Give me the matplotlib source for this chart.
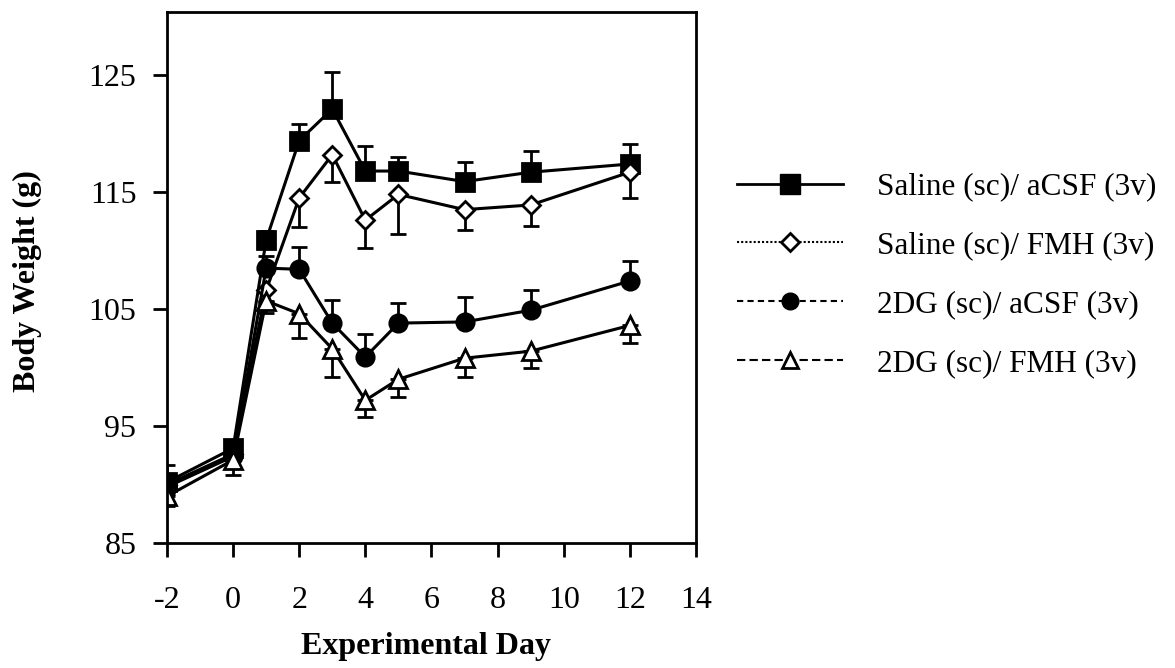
import numpy as np
import matplotlib
matplotlib.use('Agg')
import matplotlib.pyplot as plt
from matplotlib.lines import Line2D

plt.rcParams['font.family'] = ['Liberation Serif', 'DejaVu Serif']
plt.rcParams['axes.unicode_minus'] = False

days = [-2, 0, 1, 2, 3, 4, 5, 7, 9, 12]

sal_acsf = [90.2, 93.1, 110.9, 119.4, 122.1, 116.8, 116.8, 115.9, 116.7, 117.4]
sal_acsf_err = [1.5, 0.6, 0.8, 1.4, 3.2, 2.1, 1.2, 1.7, 1.8, 1.7]

sal_fmh = [90.0, 92.6, 106.6, 114.5, 118.2, 112.6, 114.8, 113.5, 113.9, 116.7]
sal_fmh_err = [0.8, 1.0, 1.0, 2.5, 2.3, 2.4, 3.4, 1.7, 1.8, 2.2]

dg_acsf = [89.8, 92.4, 108.5, 108.4, 103.8, 100.9, 103.8, 103.9, 104.9, 107.4]
dg_acsf_err = [0.8, 0.8, 1.0, 1.9, 2.0, 2.0, 1.7, 2.1, 1.7, 1.7]

dg_fmh = [89.0, 92.1, 105.7, 104.6, 101.6, 97.2, 99.0, 100.8, 101.4, 103.6]
dg_fmh_err = [0.8, 1.3, 1.0, 2.1, 2.4, 1.4, 1.5, 1.6, 1.4, 1.5]

labels = ['Saline (sc)/ aCSF (3v)', 'Saline (sc)/ FMH (3v)',
          '2DG (sc)/ aCSF (3v)', '2DG (sc)/ FMH (3v)']

fig = plt.figure(figsize=(11.75, 6.68), dpi=100)
ax = fig.add_axes([0.1421, 0.1871, 0.4502, 0.795])

series = [
    (sal_acsf, sal_acsf_err, 's', 'k', 12.5, 'up'),
    (sal_fmh, sal_fmh_err, 'D', 'white', 9, 'down'),
    (dg_acsf, dg_acsf_err, 'o', 'k', 12.5, 'up'),
    (dg_fmh, dg_fmh_err, '^', 'white', 12.5, 'down'),
]
for vals, err, mk, fc, ms, side in series:
    e = np.array(err)
    z = np.zeros_like(e)
    yerr = [z, e] if side == 'up' else [e, z]
    ax.errorbar(days, vals, yerr=yerr, color='k', lw=2.2, marker=mk, ms=ms,
                mfc=fc, mec='k', mew=2, capsize=6, capthick=2, elinewidth=2)

ax.set_xlim(-2, 14)
ax.set_ylim(85, 130.4)
ax.set_xticks(range(-2, 15, 2))
ax.set_yticks([85, 95, 105, 115, 125])
for s in ax.spines.values():
    s.set_linewidth(2)
ax.tick_params(axis='both', direction='out', length=10, width=2, labelsize=23)
ax.tick_params(axis='x', pad=21)
ax.tick_params(axis='y', pad=12)

ax.set_xlabel('Experimental Day', fontsize=23, fontweight='bold')
ax.set_ylabel('Body Weight (g)', fontsize=23, fontweight='bold')
ax.xaxis.set_label_coords(0.49, -0.167)
ax.yaxis.set_label_coords(-0.236, 0.493)

handles = [
    Line2D([], [], color='k', lw=2, ls='-', marker='s', ms=14, mfc='k', mec='k'),
    Line2D([], [], color='k', lw=1.5, ls=(0, (1, 1)), marker='D', ms=9, mfc='white', mec='k', mew=2),
    Line2D([], [], color='k', lw=1.5, ls=(0, (3, 2)), marker='o', ms=12, mfc='k', mec='k'),
    Line2D([], [], color='k', lw=1.5, ls=(0, (4, 2)), marker='^', ms=11, mfc='white', mec='k', mew=2),
]
fig.legend(handles, labels, loc='center left', bbox_to_anchor=(0.627, 0.588),
           frameon=False, fontsize=22.5, handlelength=3.4, handletextpad=1.1,
           labelspacing=0.95, borderpad=0, borderaxespad=0)

fig.savefig('out.png', dpi=100)
